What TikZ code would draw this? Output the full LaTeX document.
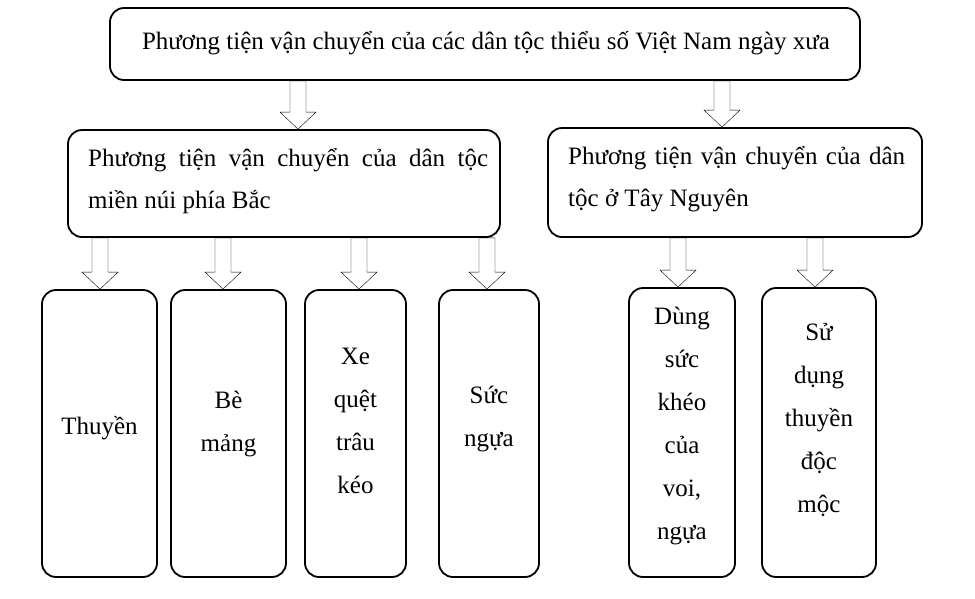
\documentclass[tikz,border=0pt]{standalone}
\usepackage{fontspec}
\setmainfont{Liberation Serif}
\usetikzlibrary{calc}
\begin{document}
\begin{tikzpicture}[x=1pt,y=-1pt,
  box/.style={draw, line width=1.8pt, rounded corners=14pt, inner sep=0pt},
  txt/.style={align=center, font=\fontsize{25}{43}\selectfont, inner sep=0pt},
  midtxt/.style={align=left, font=\fontsize{25}{42}\selectfont, inner sep=0pt, anchor=west},
  barrow/.style={draw, line width=1.7pt, fill=white, line join=miter,
    to path={let \p1=(\tikztostart), \p2=(\tikztotarget) in
      (\x1-8pt,\y1) -- (\x1-8pt,\y2+17pt) -- (\x1-18pt,\y2+17pt) -- (\x1,\y2)
      -- (\x1+18pt,\y2+17pt) -- (\x1+8pt,\y2+17pt) -- (\x1+8pt,\y1) -- cycle}}
]
\useasboundingbox (0,0) rectangle (975,598);

% top
\node[box, minimum width=750pt, minimum height=72pt] (top) at (485,44) {};
\node[txt] (toptxt) at (486,43) {Phương tiện vận chuyển của các dân tộc thiểu số Việt Nam ngày xưa};

% middle
\node[box, minimum width=432pt, minimum height=107pt] (midL) at (284,183.5) {};
\node[midtxt] (midLtxt) at (88,181) {\makebox[400pt][s]{Phương tiện vận chuyển của dân tộc}\\miền núi phía Bắc};
\node[box, minimum width=374pt, minimum height=109pt] (midR) at (735,182.5) {};
\node[midtxt] (midRtxt) at (568,179) {\makebox[337pt][s]{Phương tiện vận chuyển của dân}\\tộc ở Tây Nguyên};

% bottom boxes
\node[box, minimum width=115pt, minimum height=287pt] (b1) at (99.5,433.5) {};
\node[box, minimum width=115pt, minimum height=287pt] (b2) at (228.5,433.5) {};
\node[box, minimum width=101pt, minimum height=287pt] (b3) at (355.5,433.5) {};
\node[box, minimum width=100pt, minimum height=287pt] (b4) at (489,433.5) {};
\node[box, minimum width=106pt, minimum height=289pt] (b5) at (682,432.5) {};
\node[box, minimum width=114pt, minimum height=289pt] (b6) at (819,432.5) {};

\node[txt] (b1t) at (99.5,428) {Thuyền};
\node[txt] (b2t) at (228.5,424) {Bè\\mảng};
\node[txt] (b3t) at (355.5,421) {Xe\\quệt\\trâu\\kéo};
\node[txt] (b4t) at (489,419) {Sức\\ngựa};
\node[txt] (b5t) at (682,426) {Dùng\\sức\\khéo\\của\\voi,\\ngựa};
\node[txt] (b6t) at (819,420) {Sử\\dụng\\thuyền\\độc\\mộc};

% arrows
\draw (top.south -| 298,0) to[barrow] (midL.north -| 298,0);
\draw (top.south -| 722,0) to[barrow] (midR.north -| 722,0);
\draw (midL.south -| 100,0) to[barrow] (b1.north -| 100,0);
\draw (midL.south -| 223,0) to[barrow] (b2.north -| 223,0);
\draw (midL.south -| 359,0) to[barrow] (b3.north -| 359,0);
\draw (midL.south -| 487,0) to[barrow] (b4.north -| 487,0);
\draw (midR.south -| 678,0) to[barrow] (b5.north -| 678,0);
\draw (midR.south -| 815,0) to[barrow] (b6.north -| 815,0);
\end{tikzpicture}
\end{document}
